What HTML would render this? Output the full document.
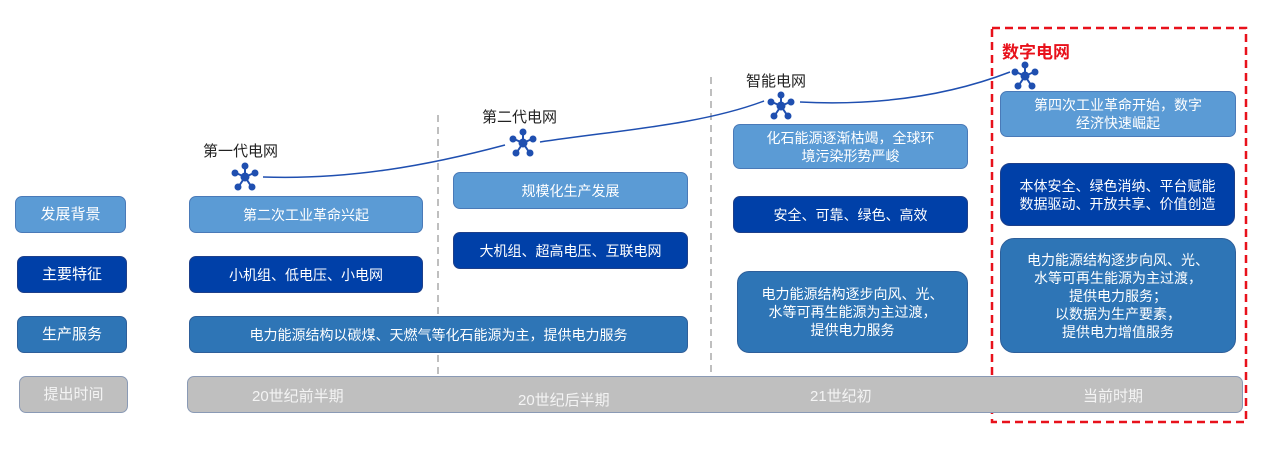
<!DOCTYPE html>
<html><head><meta charset="utf-8"><style>
body{margin:0;width:1267px;height:449px;background:#fff;position:relative;overflow:hidden;font-family:"Liberation Sans","Noto Sans CJK SC",sans-serif}
.b{position:absolute;box-sizing:border-box;border-radius:7px;color:#fff;display:flex;align-items:center;justify-content:center;text-align:center;font-size:14px;line-height:18px;border:1.5px solid #4a7ab8}
.l{background:#5b9bd5}.d{background:#0040a8;border-color:#1d3f8a}.m{background:#2e75b6;border-color:#2e5f9a}.g{background:#bfbfbf;border-color:#8a9ab5;color:#f4f4f4;font-size:15px}
.t{position:absolute;font-size:15px;color:#222;white-space:nowrap}
</style></head><body>
<svg width="1267" height="449" style="position:absolute;left:0;top:0">
<line x1="438" y1="115" x2="438" y2="375" stroke="#aaa" stroke-width="1.5" stroke-dasharray="7,5"/>
<line x1="711" y1="77" x2="711" y2="383" stroke="#aaa" stroke-width="1.5" stroke-dasharray="7,5"/>
<path d="M263 177 C350 180 430 165 505 145" fill="none" stroke="#1f4fb0" stroke-width="1.5"/>
<path d="M800 102 C880 106 950 95 1010 72" fill="none" stroke="#1f4fb0" stroke-width="1.5"/>
<path d="M540 142 C620 130 700 125 764 101" fill="none" stroke="#1f4fb0" stroke-width="1.5"/>
<rect x="992" y="28" width="254" height="394" fill="none" stroke="#e8111b" stroke-width="2.5" stroke-dasharray="8,5"/>
<g fill="#1f4fb0" stroke="#1f4fb0" stroke-width="2">
<g transform="translate(245,177)"><line x1="0" y1="0" x2="0" y2="-10"/><line x1="0" y1="0" x2="-9" y2="-4"/><line x1="0" y1="0" x2="9" y2="-4"/><line x1="0" y1="0" x2="-6" y2="9"/><line x1="0" y1="0" x2="6" y2="9"/><circle r="3.5"/><circle cy="-11" r="2.5"/><circle cx="-10" cy="-4" r="2.5"/><circle cx="10" cy="-4" r="2.5"/><circle cx="-7" cy="10" r="2.5"/><circle cx="7" cy="10" r="2.5"/></g>
<g transform="translate(523,143)"><line x1="0" y1="0" x2="0" y2="-10"/><line x1="0" y1="0" x2="-9" y2="-4"/><line x1="0" y1="0" x2="9" y2="-4"/><line x1="0" y1="0" x2="-6" y2="9"/><line x1="0" y1="0" x2="6" y2="9"/><circle r="3.5"/><circle cy="-11" r="2.5"/><circle cx="-10" cy="-4" r="2.5"/><circle cx="10" cy="-4" r="2.5"/><circle cx="-7" cy="10" r="2.5"/><circle cx="7" cy="10" r="2.5"/></g>
<g transform="translate(781,106)"><line x1="0" y1="0" x2="0" y2="-10"/><line x1="0" y1="0" x2="-9" y2="-4"/><line x1="0" y1="0" x2="9" y2="-4"/><line x1="0" y1="0" x2="-6" y2="9"/><line x1="0" y1="0" x2="6" y2="9"/><circle r="3.5"/><circle cy="-11" r="2.5"/><circle cx="-10" cy="-4" r="2.5"/><circle cx="10" cy="-4" r="2.5"/><circle cx="-7" cy="10" r="2.5"/><circle cx="7" cy="10" r="2.5"/></g>
<g transform="translate(1025,76)"><line x1="0" y1="0" x2="0" y2="-10"/><line x1="0" y1="0" x2="-9" y2="-4"/><line x1="0" y1="0" x2="9" y2="-4"/><line x1="0" y1="0" x2="-6" y2="9"/><line x1="0" y1="0" x2="6" y2="9"/><circle r="3.5"/><circle cy="-11" r="2.5"/><circle cx="-10" cy="-4" r="2.5"/><circle cx="10" cy="-4" r="2.5"/><circle cx="-7" cy="10" r="2.5"/><circle cx="7" cy="10" r="2.5"/></g>
</g>
</svg>
<div class="t" style="left:203px;top:140px">第一代电网</div>
<div class="t" style="left:482px;top:106px">第二代电网</div>
<div class="t" style="left:746px;top:70px">智能电网</div>
<div class="t" style="left:1002px;top:38px;color:#e8111b;font-weight:bold;font-size:17px">数字电网</div>

<div class="b l" style="left:15px;top:196px;width:111px;height:37px;font-size:15px">发展背景</div>
<div class="b d" style="left:17px;top:256px;width:110px;height:37px;font-size:15px">主要特征</div>
<div class="b m" style="left:17px;top:316px;width:110px;height:37px;font-size:15px">生产服务</div>
<div class="b g" style="left:19px;top:376px;width:109px;height:37px">提出时间</div>

<div class="b g" style="left:187px;top:376px;width:1056px;height:37px;display:block"></div>
<div class="t" style="left:252px;top:385px;color:#f4f4f4">20世纪前半期</div>
<div class="t" style="left:518px;top:389px;color:#f4f4f4">20世纪后半期</div>
<div class="t" style="left:810px;top:385px;color:#f4f4f4">21世纪初</div>
<div class="t" style="left:1083px;top:385px;color:#f4f4f4">当前时期</div>

<div class="b l" style="left:189px;top:196px;width:234px;height:37px">第二次工业革命兴起</div>
<div class="b d" style="left:189px;top:256px;width:234px;height:37px">小机组、低电压、小电网</div>
<div class="b m" style="left:189px;top:316px;width:499px;height:37px">电力能源结构以碳煤、天燃气等化石能源为主，提供电力服务</div>

<div class="b l" style="left:453px;top:172px;width:235px;height:37px">规模化生产发展</div>
<div class="b d" style="left:453px;top:232px;width:235px;height:37px">大机组、超高电压、互联电网</div>

<div class="b l" style="left:733px;top:124px;width:235px;height:45px">化石能源逐渐枯竭，全球环<br>境污染形势严峻</div>
<div class="b d" style="left:733px;top:196px;width:235px;height:37px">安全、可靠、绿色、高效</div>
<div class="b m" style="left:737px;top:271px;width:231px;height:82px;border-radius:12px">电力能源结构逐步向风、光、<br>水等可再生能源为主过渡，<br>提供电力服务</div>

<div class="b l" style="left:1000px;top:91px;width:236px;height:46px">第四次工业革命开始，数字<br>经济快速崛起</div>
<div class="b d" style="left:1000px;top:163px;width:235px;height:63px;border-radius:10px">本体安全、绿色消纳、平台赋能<br>数据驱动、开放共享、价值创造</div>
<div class="b m" style="left:1000px;top:238px;width:236px;height:115px;border-radius:14px">电力能源结构逐步向风、光、<br>水等可再生能源为主过渡，<br>提供电力服务；<br>以数据为生产要素，<br>提供电力增值服务</div>
</body></html>
